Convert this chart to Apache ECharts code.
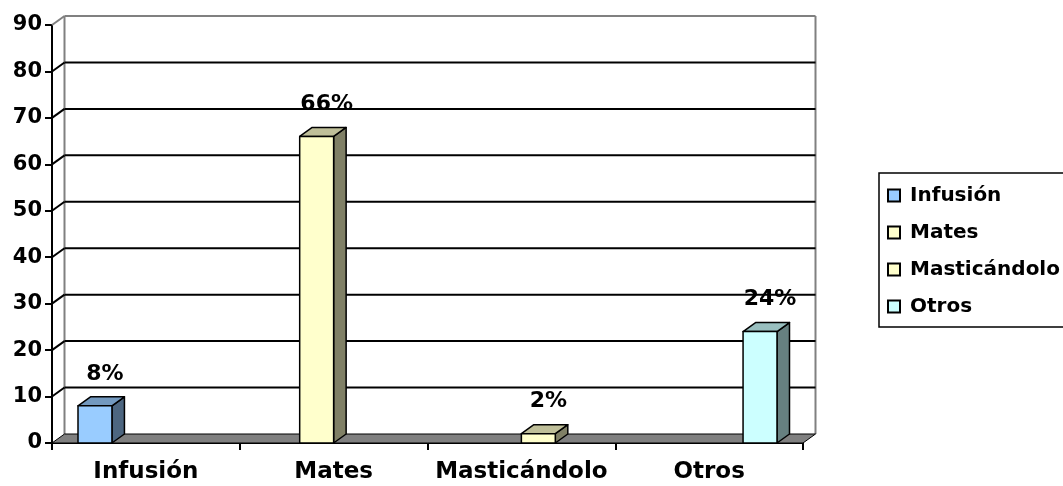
<!DOCTYPE html>
<html>
<head>
<meta charset="utf-8">
<script src="https://cdn.jsdelivr.net/npm/echarts@6/dist/echarts.min.js"></script>
<style>html,body{margin:0;padding:0;background:#fff;}#c{width:1063px;height:486px;}</style>
</head>
<body>
<div id="c"></div>
<script>
const categories = ['Infusión', 'Mates', 'Masticándolo', 'Otros'];
const seriesNames = ['Infusión', 'Mates', 'Masticándolo', 'Otros'];
const values = [8, 66, 2, 24];
const yTicks = [0, 10, 20, 30, 40, 50, 60, 70, 80, 90];

const frontColors = ['#99CCFF', '#FFFFCC', '#FFFFCC', '#CCFFFF'];
const topColors = ['#7399BF', '#BFBF99', '#BFBF99', '#99BFBF'];
const sideColors = ['#4D6680', '#808066', '#808066', '#668080'];
const DX = 12.5, DY = 9;
const FONT = 'DejaVu Sans';

const chart = echarts.init(document.getElementById('c'), null, {renderer: 'canvas'});

function wallsRender(params, api) {
  const cs = params.coordSys;
  const v = api.value(0);
  const y = api.coord([0, v])[1];
  const x0 = cs.x, x1 = cs.x + cs.width;
  const isTop = v === yTicks[yTicks.length - 1];
  const children = [];
  if (v === 0) {
    const yb = y;
    children.push({
      type: 'polygon', z2: 1,
      shape: {points: [[x0, yb], [x1, yb], [x1 + DX, yb - DY], [x0 + DX, yb - DY]]},
      style: {fill: '#808080', stroke: '#000', lineWidth: 1}
    });
    children.push({type: 'line', z2: 0, shape: {x1: x0 + DX, y1: cs.y - DY, x2: x0 + DX, y2: yb - DY}, style: {stroke: '#808080', lineWidth: 2}});
    children.push({type: 'line', z2: 0, shape: {x1: x1 + DX, y1: cs.y - DY, x2: x1 + DX, y2: yb - DY}, style: {stroke: '#808080', lineWidth: 2}});
  } else {
    children.push({
      type: 'line', z2: 0,
      shape: {x1: x0 + DX, y1: y - DY, x2: x1 + DX, y2: y - DY},
      style: {stroke: isTop ? '#808080' : '#000', lineWidth: 2}
    });
    children.push({
      type: 'line', z2: 0,
      shape: {x1: x0, y1: y, x2: x0 + DX, y2: y - DY},
      style: {stroke: isTop ? '#808080' : '#000', lineWidth: 2}
    });
  }
  return {type: 'group', children: children};
}

function makeBarRender(i) {
  return function (params, api) {
    const band = api.size([1, 0])[0];
    const bw = band * 0.723 / 4;
    const cx = api.coord([api.value(0), 0])[0];
    const x0 = cx - 2 * bw + i * bw;
    const yTop = api.coord([api.value(0), api.value(1)])[1];
    const yBase = api.coord([api.value(0), 0])[1];
    const st = {stroke: '#000', lineWidth: 1.5, lineJoin: 'round'};
    return {
      type: 'group',
      children: [
        {type: 'polygon', shape: {points: [[x0 + bw, yTop], [x0 + bw + DX, yTop - DY], [x0 + bw + DX, yBase - DY], [x0 + bw, yBase]]},
          style: Object.assign({fill: sideColors[i]}, st)},
        {type: 'polygon', shape: {points: [[x0, yTop], [x0 + DX, yTop - DY], [x0 + bw + DX, yTop - DY], [x0 + bw, yTop]]},
          style: Object.assign({fill: topColors[i]}, st)},
        {type: 'rect', shape: {x: x0, y: yTop, width: bw, height: yBase - yTop},
          style: Object.assign({fill: frontColors[i]}, st)},
        {type: 'text', x: x0 + bw / 2 + 10, y: yTop - 32,
          style: {text: api.value(1) + '%', fill: '#000', font: 'bold 22px "' + FONT + '"', align: 'center', verticalAlign: 'middle'}}
      ]
    };
  };
}

const series = [{
  type: 'custom',
  name: '__walls',
  renderItem: wallsRender,
  data: yTicks.map(v => [v]),
  encode: {y: 0},
  z: 1,
  silent: true
}];
seriesNames.forEach((name, i) => {
  series.push({
    type: 'custom',
    name: name,
    renderItem: makeBarRender(i),
    data: [[i, values[i]]],
    encode: {x: 0, y: 1},
    itemStyle: {color: frontColors[i], borderColor: '#000', borderWidth: 1.5},
    z: 5
  });
});

chart.setOption({
  animation: false,
  backgroundColor: '#fff',
  grid: {left: 52, right: 260, top: 25, bottom: 43},
  xAxis: {
    type: 'category',
    data: categories,
    boundaryGap: true,
    axisLine: {show: true, lineStyle: {color: '#000', width: 2}},
    axisTick: {show: true, interval: 0, length: 7, lineStyle: {color: '#000', width: 2}},
    axisLabel: {interval: 0, margin: 18, color: '#000', fontFamily: FONT, fontWeight: 'bold', fontSize: 23},
    splitLine: {show: false}
  },
  yAxis: {
    type: 'value',
    min: 0, max: 90, interval: 10,
    axisLine: {show: true, lineStyle: {color: '#000', width: 2}},
    axisTick: {show: true, length: 7, lineStyle: {color: '#000', width: 2}},
    axisLabel: {margin: 10, color: '#000', fontFamily: FONT, fontWeight: 'bold', fontSize: 21},
    splitLine: {show: false}
  },
  legend: {
    orient: 'vertical',
    left: 879, top: 173,
    padding: [12, 12, 10, 8],
    itemGap: 16,
    itemWidth: 12, itemHeight: 12,
    icon: 'rect',
    borderColor: '#000', borderWidth: 1.5,
    data: seriesNames.map((n, i) => ({name: n, itemStyle: {color: frontColors[i], borderColor: '#000', borderWidth: 2}})),
    textStyle: {color: '#000', fontFamily: FONT, fontWeight: 'bold', fontSize: 20, lineHeight: 21, padding: [0, 0, 0, 5]}
  },
  series: series
});
</script>
</body>
</html>
